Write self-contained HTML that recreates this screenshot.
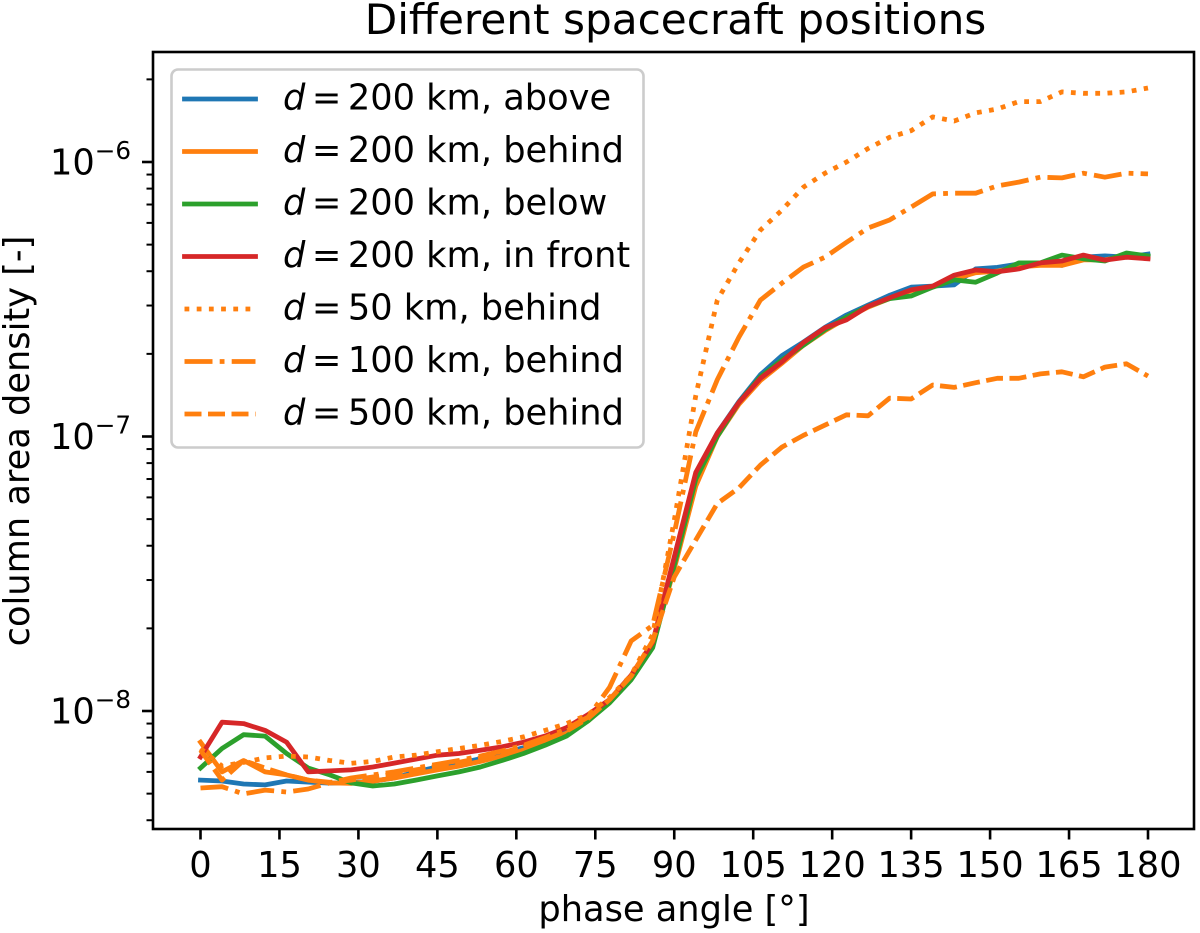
<!DOCTYPE html>
<html>
<head>
<meta charset="utf-8">
<title>Different spacecraft positions</title>
<style>
html,body{margin:0;padding:0;background:#fff;width:1200px;height:933px;overflow:hidden}
svg{display:block}
text{font-family:"DejaVu Sans",sans-serif;fill:#000}
</style>
</head>
<body>
<svg id="chart" xmlns="http://www.w3.org/2000/svg" width="1200" height="933" viewBox="0 0 1200 933">
  <text x="675.5" y="34" font-size="42.2" text-anchor="middle">Different spacecraft positions</text>
  <text x="674" y="921" font-size="35.2" text-anchor="middle">phase angle [°]</text>
  <text transform="translate(29,441) rotate(-90)" font-size="35.2" text-anchor="middle">column area density [-]</text>
  <g id="plot"></g>
</svg>
<script>
// Phase angle samples are evenly spaced from 0 to 180 degrees; values are in units of 1e-9.
const UNIT = 1e-9;
const angleStart = 0;
const angleEnd = 180;
const xTickLabels = [0,15,30,45,60,75,90,105,120,135,150,165,180];
const yMajorTicks = [1e-6,1e-7,1e-8];
const yMajorExponents = [-6,-7,-8];
const yMinorTicks = [2e-6,9e-7,8e-7,7e-7,6e-7,5e-7,4e-7,3e-7,2e-7,9e-8,8e-8,7e-8,6e-8,5e-8,4e-8,3e-8,2e-8,9e-9,8e-9,7e-9,6e-9,5e-9,4e-9];

const above200 = [5.6,5.56,5.42,5.38,5.56,5.51,5.46,5.48,5.55,5.7,6.0,6.25,6.45,6.7,7.0,7.35,7.8,8.4,9.4,10.9,13.3,17.5,36,73,103,134,168,197,221,250,277,301,327,350,353,357,408,413,425,429,420,450,455,450,462];
const behind200 = [7.7,6.0,6.6,6.0,5.85,5.6,5.47,5.45,5.55,5.7,5.9,6.1,6.3,6.55,6.85,7.2,7.7,8.3,9.2,10.8,13.2,17.5,33,66,100,131,160,185,215,243,270,296,318,340,352,375,395,400,415,420,420,440,440,455,450];
const below200 = [6.2,7.3,8.2,8.1,7.0,6.2,5.85,5.47,5.33,5.42,5.6,5.8,6.0,6.25,6.6,7.0,7.5,8.1,9.2,10.7,13.0,17.0,34,70,100,133,165,190,215,245,272,298,318,325,350,372,365,394,429,429,458,444,436,466,455];
const front200 = [6.8,9.1,9.0,8.5,7.7,6.0,6.05,6.1,6.25,6.46,6.68,6.9,7.0,7.2,7.4,7.7,8.1,8.7,9.7,11,13.5,17.8,36.5,74,103,133,163,187,220,249,266,298,320,342,353,387,404,398,408,429,436,458,439,450,444];
const behind50 = [7.3,6.3,6.5,6.75,6.85,6.8,6.6,6.45,6.55,6.8,6.9,7.1,7.3,7.5,7.75,8.05,8.5,9.0,9.7,11.2,13.5,19,49.6,141,314,429,565,668,810,910,1000,1120,1230,1300,1460,1410,1510,1560,1660,1660,1800,1780,1780,1800,1860];
const behind100 = [5.24,5.3,4.99,5.15,5.07,5.2,5.47,5.7,5.85,6.0,6.2,6.4,6.6,6.85,7.15,7.5,8.0,8.6,9.5,12.2,18,20.5,44.5,104,161,230,314,362,414,450,510,575,615,685,765,770,770,818,845,880,875,910,880,910,905];
const behind500 = [7.2,5.6,6.6,6.2,5.85,5.6,5.5,5.6,5.75,5.9,6.1,6.3,6.5,6.75,7.05,7.4,7.85,8.45,9.4,11,13.4,18,30.8,42,57,65,78.7,91.5,101,110,120,119,138,137,154,151,157,163,163,169,172,165,179,184,166];

const seriesOrder = [
  {key:'above-200', values:above200, color:'#1f77b4', dash:'', label:'200 km, above'},
  {key:'behind-200', values:behind200, color:'#ff7f0e', dash:'', label:'200 km, behind'},
  {key:'below-200', values:below200, color:'#2ca02c', dash:'', label:'200 km, below'},
  {key:'front-200', values:front200, color:'#d62728', dash:'', label:'200 km, in front'},
  {key:'behind-50', values:behind50, color:'#ff7f0e', dash:'4.8 7.4', label:'50 km, behind'},
  {key:'behind-100', values:behind100, color:'#ff7f0e', dash:'28 7.2 4.8 7.2', label:'100 km, behind'},
  {key:'behind-500', values:behind500, color:'#ff7f0e', dash:'17 6.5', label:'500 km, behind'}
];

const NS = 'http://www.w3.org/2000/svg';
const plot = document.getElementById('plot');
const LEFT = 153, RIGHT = 1194, TOP = 52, BOTTOM = 829;
function xScale(deg){ return 200.5 + deg * (1148 - 200.5) / 180; }
function yScale(v){ return 711 - (Math.log10(v) + 8) * 274.5; }
function mk(tag, attrs, parent){
  const el = document.createElementNS(NS, tag);
  for (const k in attrs) el.setAttribute(k, attrs[k]);
  (parent || plot).appendChild(el);
  return el;
}

// clipping region
const defs = mk('defs', {});
const clip = mk('clipPath', {id:'axes-clip'}, defs);
mk('rect', {x:LEFT, y:TOP, width:RIGHT-LEFT, height:BOTTOM-TOP}, clip);

// series
const seriesGroup = mk('g', {'clip-path':'url(#axes-clip)'});


seriesOrder.forEach(function(s){
  const step = (angleEnd - angleStart) / (s.values.length - 1);
  const pts = s.values.map(function(v, i){
    return xScale(angleStart + i * step).toFixed(1) + ',' + yScale(v * UNIT).toFixed(1);
  }).join(' ');
  const line = mk('polyline', {points:pts, fill:'none', stroke:s.color, 'stroke-width':4.8, 'stroke-linejoin':'round', 'stroke-linecap':s.dash ? 'butt' : 'square'}, seriesGroup);
  if (s.dash) line.setAttribute('stroke-dasharray', s.dash);
  
  
});

// x ticks
xTickLabels.forEach(function(t){
  const x = xScale(t);
  const tick = mk('line', {x1:x, x2:x, y1:BOTTOM, y2:BOTTOM+10.5, stroke:'#000', 'stroke-width':2.6});
  
  
  const lab = mk('text', {x:x, y:877, 'font-size':35.2, 'text-anchor':'middle'});
  lab.textContent = String(t);
  
  
});

// y ticks
yMajorTicks.forEach(function(v, i){
  const y = yScale(v);
  const tick = mk('line', {x1:LEFT-11, x2:LEFT, y1:y, y2:y, stroke:'#000', 'stroke-width':2.6});
  
  
  const lab = mk('text', {x:50, y:y+12.5, 'font-size':35.2});
  
  
  const base = mk('tspan', {}, lab);
  base.textContent = '10';
  const sup = mk('tspan', {dy:-15.5, 'font-size':24.6}, lab);
  sup.textContent = '\u2212' + Math.abs(yMajorExponents[i]);
});
yMinorTicks.forEach(function(v){
  const y = yScale(v);
  const tick = mk('line', {x1:LEFT-6.5, x2:LEFT, y1:y, y2:y, stroke:'#000', 'stroke-width':2});
  
  
});

// frame
const frame = mk('rect', {x:LEFT, y:TOP, width:RIGHT-LEFT, height:BOTTOM-TOP, fill:'none', stroke:'#000', 'stroke-width':2.6});



// legend
const legend = mk('g', {});


const box = mk('rect', {x:171.5, y:69.5, width:472, height:378, rx:6.5, ry:6.5, fill:'#fff', 'fill-opacity':0.8, stroke:'#ccc', 'stroke-width':2.6}, legend);


seriesOrder.forEach(function(s, i){
  const y = 99 + i * 52.5;
  const entry = mk('g', {}, legend);
  
  
  const h = mk('line', {x1:184.5, x2:255.5, y1:y, y2:y, stroke:s.color, 'stroke-width':4.8, 'stroke-linecap':s.dash ? 'butt' : 'square'}, entry);
  if (s.dash) h.setAttribute('stroke-dasharray', s.dash);
  
  
  const t = mk('text', {x:283, y:y+10.5, 'font-size':35.2}, entry);
  
  
  const d = mk('tspan', {'font-style':'italic'}, t);
  d.textContent = 'd';
  const eq = mk('tspan', {dx:6.5}, t);
  eq.textContent = '=';
  const rest = mk('tspan', {dx:6.5}, t);
  rest.textContent = s.label;
});
</script>
</body>
</html>
